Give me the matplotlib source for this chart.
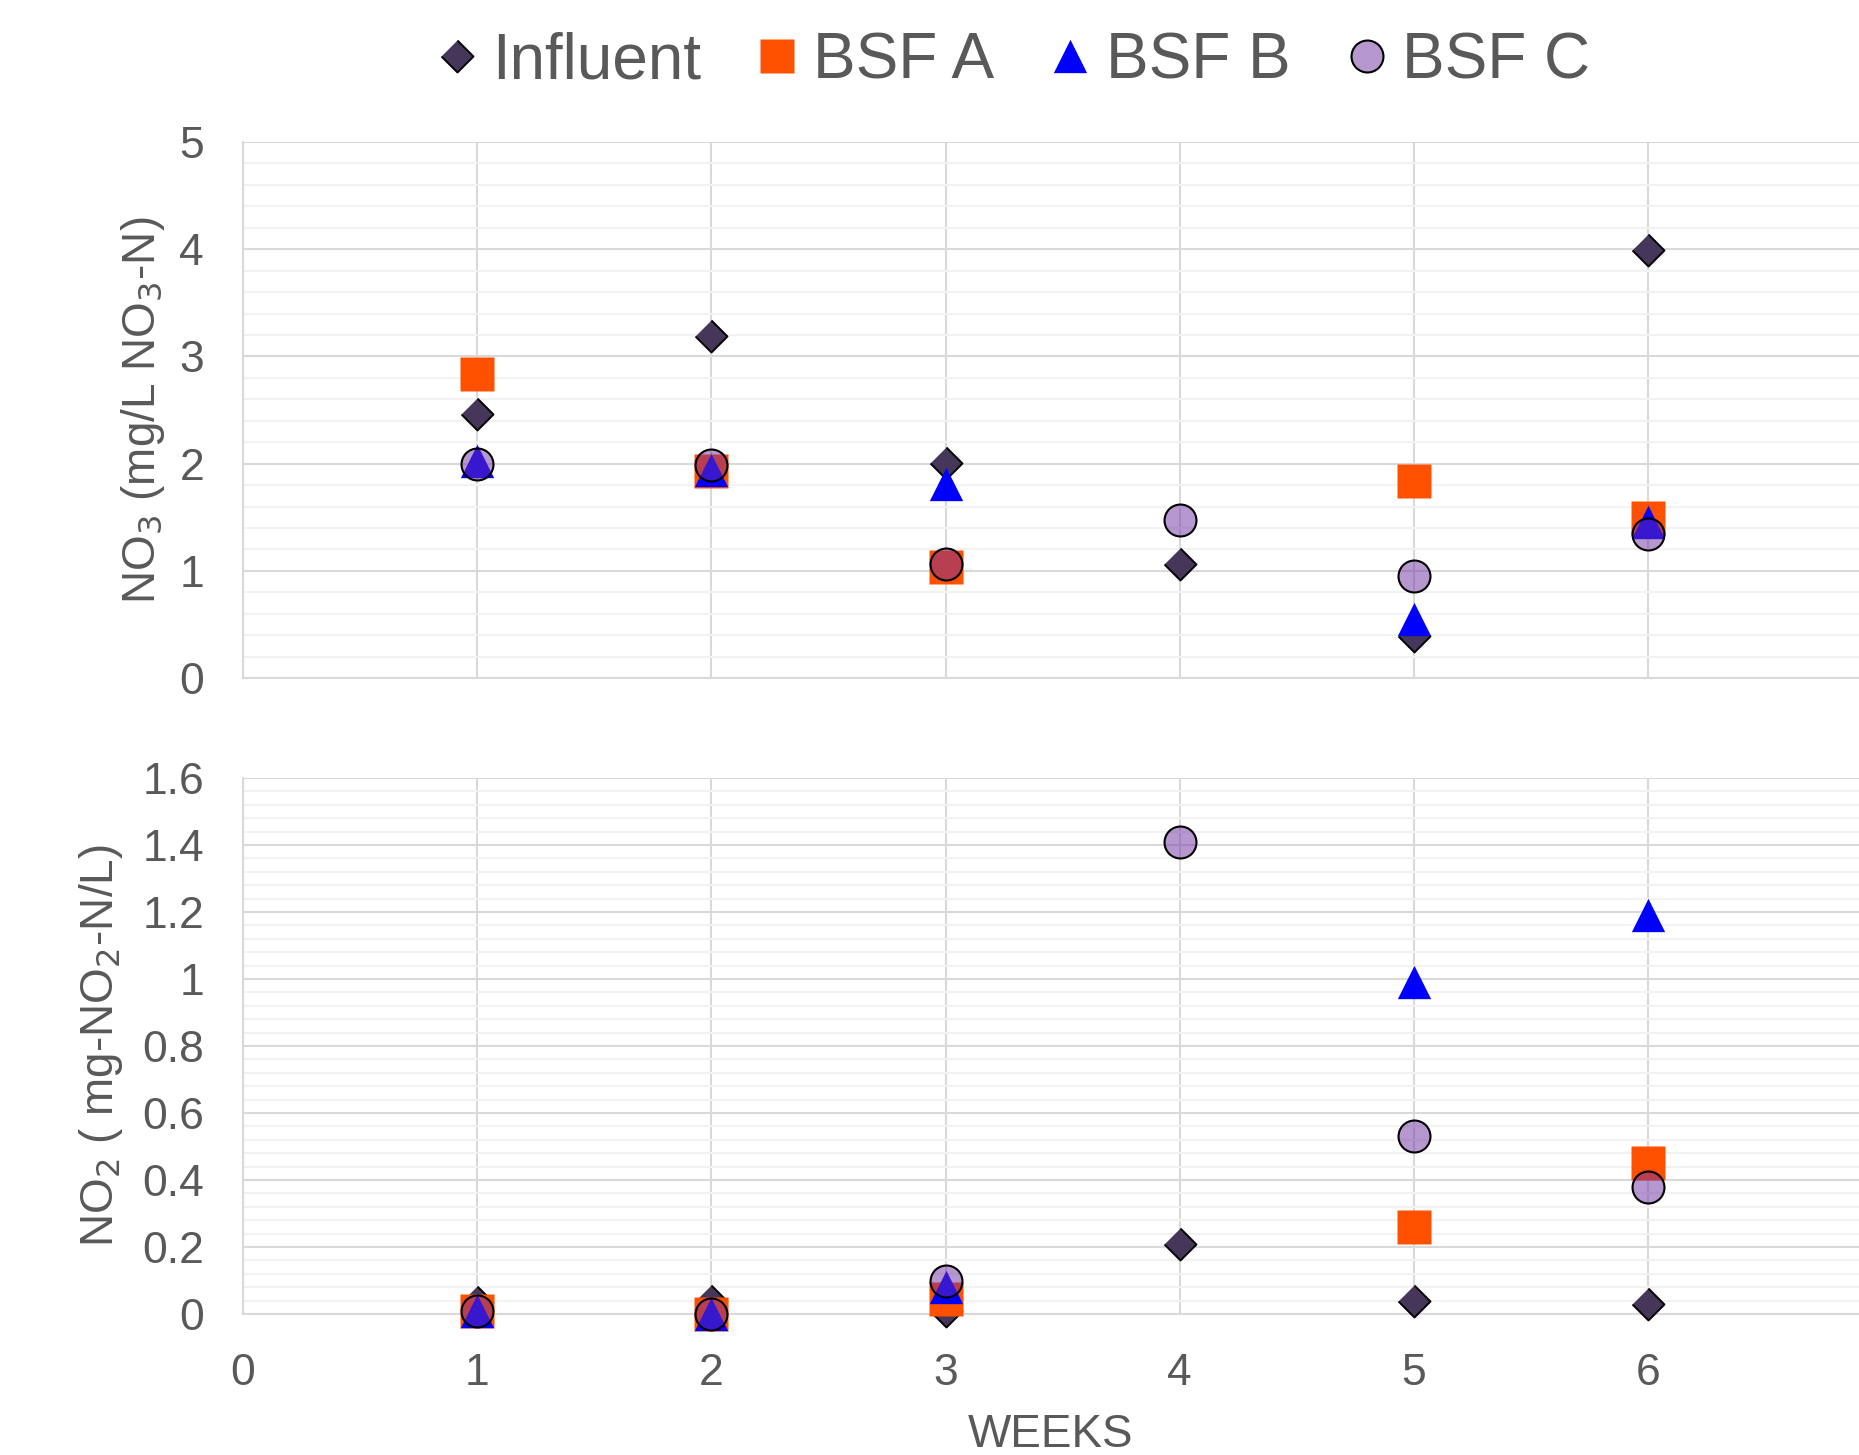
import numpy as np
import matplotlib.pyplot as plt
from matplotlib.ticker import MultipleLocator

plt.rcParams['font.family'] = ['Liberation Sans', 'DejaVu Sans']
txt = '#595959'

# NO3 data (top panel)
no3_inf_w = [1, 2, 3, 4, 5, 6]
no3_inf = [2.46, 3.19, 2.01, 1.06, 0.39, 3.99]
no3_a_w = [1, 2, 3, 5, 6]
no3_a = [2.84, 1.93, 1.04, 1.84, 1.49]
no3_b_w = [1, 2, 3, 5, 6]
no3_b = [2.02, 1.94, 1.81, 0.55, 1.46]
no3_c_w = [1, 2, 3, 4, 5, 6]
no3_c = [2.0, 1.99, 1.06, 1.47, 0.95, 1.34]

# NO2 data (bottom panel)
no2_inf_w = [1, 2, 3, 4, 5, 6]
no2_inf = [0.035, 0.04, 0.01, 0.21, 0.04, 0.03]
no2_a_w = [1, 2, 3, 5, 6]
no2_a = [0.01, 0.0, 0.045, 0.26, 0.45]
no2_b_w = [1, 2, 3, 5, 6]
no2_b = [0.01, 0.0, 0.08, 0.99, 1.19]
no2_c_w = [1, 2, 3, 4, 5, 6]
no2_c = [0.01, 0.0, 0.10, 1.41, 0.53, 0.38]

labels = ['Influent', 'BSF A', 'BSF B', 'BSF C']

diamond = [(0, 1), (1, 0), (0, -1), (-1, 0)]
triangle = [(-1, -1), (1, -1), (0, 1)]

styles = [
    dict(marker=diamond, markersize=23, markerfacecolor='#46375a', markeredgecolor='black', markeredgewidth=1.4),
    dict(marker='s', markersize=24, markerfacecolor='#ff5000', markeredgecolor='none'),
    dict(marker=triangle, markersize=24, markerfacecolor='#0000ff', markeredgecolor='none'),
    dict(marker='o', markersize=23, markerfacecolor=(0.44, 0.19, 0.63, 0.5), markeredgecolor='black', markeredgewidth=1.5),
]

fig = plt.figure(figsize=(18.59, 14.55), dpi=100)
ax1 = fig.add_axes([0.1307, 0.534, 0.8693, 0.3684])
ax2 = fig.add_axes([0.1307, 0.0969, 0.8693, 0.3684])

top = [(no3_inf_w, no3_inf), (no3_a_w, no3_a), (no3_b_w, no3_b), (no3_c_w, no3_c)]
bot = [(no2_inf_w, no2_inf), (no2_a_w, no2_a), (no2_b_w, no2_b), (no2_c_w, no2_c)]

handles = []
for (w, v), st, lab in zip(top, styles, labels):
    h, = ax1.plot(w, v, linestyle='none', label=lab, zorder=3, clip_on=False, **st)
    handles.append(h)
for (w, v), st in zip(bot, styles):
    ax2.plot(w, v, linestyle='none', zorder=3, clip_on=False, **st)

for ax, ymax, major, minor in [(ax1, 5, 1, 0.2), (ax2, 1.6, 0.2, 0.04)]:
    ax.set_xlim(0, 6.9)
    ax.set_ylim(0, ymax)
    ax.xaxis.set_major_locator(MultipleLocator(1))
    ax.yaxis.set_major_locator(MultipleLocator(major))
    ax.yaxis.set_minor_locator(MultipleLocator(minor))
    ax.grid(which='major', axis='both', color='#d9d9d9', linewidth=1.5, zorder=0)
    ax.grid(which='minor', axis='y', color='#f2f2f2', linewidth=1.5, zorder=0)
    ax.set_axisbelow(True)
    for s in ['top', 'right']:
        ax.spines[s].set_visible(False)
    for s in ['left', 'bottom']:
        ax.spines[s].set_color('#d9d9d9')
        ax.spines[s].set_linewidth(1.5)
    ax.tick_params(which='both', length=0, labelsize=32, colors=txt, pad=28)

ax1.tick_params(axis='x', labelbottom=False)
ax2.set_yticks(np.arange(0, 1.61, 0.2))
ax2.set_yticklabels(['0', '0.2', '0.4', '0.6', '0.8', '1', '1.2', '1.4', '1.6'])

ax1.set_ylabel('NO$_3$ (mg/L NO$_3$-N)', fontsize=33, color=txt)
ax1.yaxis.set_label_coords(-0.047, 0.5)
ax2.set_ylabel('NO$_2$ ( mg-NO$_2$-N/L)', fontsize=33, color=txt)
ax2.yaxis.set_label_coords(-0.073, 0.5)
ax2.set_xlabel('WEEKS', fontsize=33, color=txt, labelpad=14)

fig.legend(handles=handles, loc='center', bbox_to_anchor=(0.5445, 0.958), ncol=4, frameon=False,
           fontsize=46, labelcolor=txt, handlelength=0.7, handletextpad=0.2, columnspacing=0.85)

fig.savefig('out.png', dpi=100)
